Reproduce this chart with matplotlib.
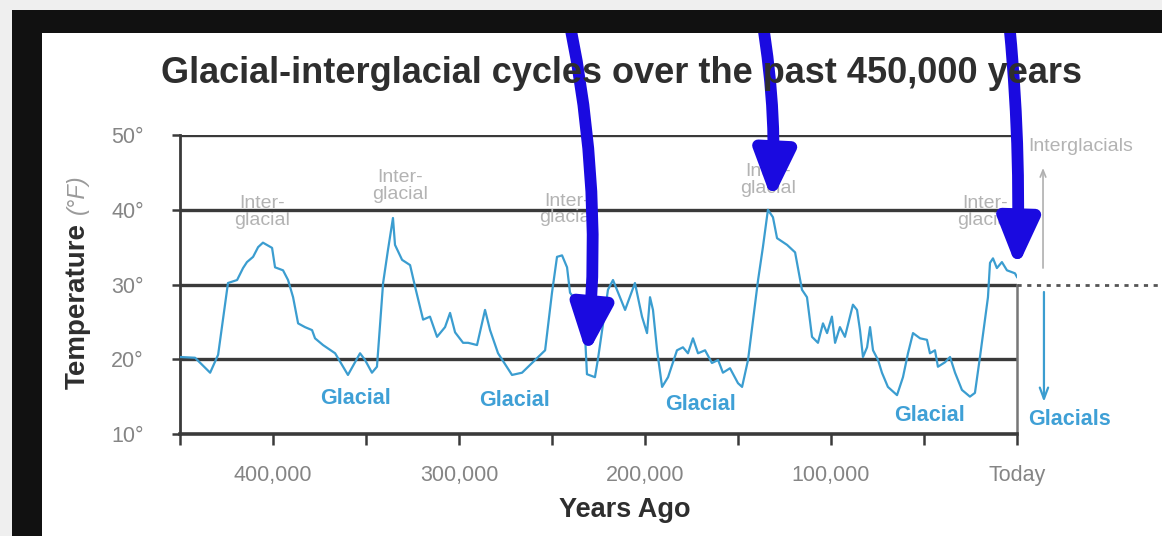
import matplotlib.pyplot as plt
from matplotlib.patches import Rectangle

plt.rcParams['font.family'] = ['Liberation Sans', 'DejaVu Sans']

# temperature record (thousands of years ago, deg F)
years_ago_kyr = [450.0, 441.9, 433.8, 429.5, 424.2, 419.3, 416.1, 414.0, 410.7, 408.0,
                 405.4, 400.5, 398.9, 394.6, 391.9, 389.2, 386.5, 382.8, 379.0, 377.4,
                 373.1, 366.6, 359.7, 353.2, 350.5, 346.8, 344.1, 340.8, 338.2, 335.5,
                 334.4, 330.6, 326.3, 323.6, 319.3, 315.6, 311.8, 307.5, 304.8, 302.1,
                 297.8, 295.1, 290.3, 286.0, 283.3, 279.0, 271.5, 266.1, 259.1, 253.7,
                 250.0, 247.3, 244.6, 241.9, 240.3, 236.0, 232.7, 231.2, 226.9, 225.3,
                 219.9, 217.2, 210.7, 205.4, 201.6, 198.9, 197.3, 195.7, 193.5, 190.8,
                 187.6, 182.8, 179.6, 176.9, 174.2, 171.5, 167.7, 164.0, 160.7, 158.1,
                 154.3, 150.0, 147.8, 144.6, 139.2, 136.6, 133.9, 131.2, 129.0, 123.6,
                 119.3, 115.6, 112.9, 110.2, 107.0, 104.3, 102.1, 99.5, 97.8, 95.2,
                 92.5, 88.2, 86.0, 84.4, 82.8, 80.6, 79.0, 77.4, 74.7, 72.6,
                 69.4, 64.5, 61.3, 58.6, 55.9, 52.1, 48.4, 46.8, 44.1, 42.5,
                 38.7, 36.0, 33.3, 29.6, 25.3, 22.6, 19.9, 17.2, 15.6, 14.5,
                 12.9, 10.8, 8.1, 5.4, 1.1, 0.0]
temp_f = [20.3, 20.2, 18.2, 20.6, 30.2, 30.6, 32.2, 33.0, 33.7, 35.0,
          35.6, 34.9, 32.3, 31.9, 30.6, 28.3, 24.8, 24.3, 23.9, 22.8,
          21.9, 20.8, 17.9, 20.8, 19.9, 18.2, 19.0, 30.2, 34.6, 38.9,
          35.3, 33.3, 32.6, 29.7, 25.3, 25.7, 23.0, 24.3, 26.2, 23.6,
          22.2, 22.2, 21.9, 26.6, 23.9, 20.8, 17.9, 18.2, 19.9, 21.2,
          28.9, 33.7, 33.9, 32.3, 28.9, 27.5, 25.5, 18.0, 17.6, 20.0,
          29.3, 30.6, 26.6, 30.2, 25.7, 23.5, 28.3, 26.6, 21.2, 16.3,
          17.6, 21.2, 21.6, 20.8, 22.8, 20.8, 21.2, 19.5, 19.9, 18.2,
          18.8, 16.8, 16.3, 19.9, 30.6, 35.0, 40.0, 39.0, 36.2, 35.3,
          34.3, 29.3, 28.3, 23.0, 22.2, 24.8, 23.5, 25.7, 22.2, 24.3,
          23.0, 27.3, 26.6, 23.9, 20.3, 21.6, 24.3, 21.2, 19.9, 18.2,
          16.3, 15.2, 17.6, 20.8, 23.5, 22.8, 22.6, 20.8, 21.2, 19.0,
          19.6, 20.3, 18.2, 15.9, 15.0, 15.5, 20.3, 25.3, 28.3, 32.9,
          33.5, 32.2, 33.0, 31.9, 31.5, 31.0]

x_ticks_major = [400, 300, 200, 100, 0]
x_tick_labels = ['400,000', '300,000', '200,000', '100,000', 'Today']
x_ticks_minor = [450, 350, 250, 150, 50]
y_ticks = [10, 20, 30, 40, 50]
y_tick_labels = ['10°', '20°', '30°', '40°', '50°']

interglacial_pos = [(405.9, 39.7), (331.7, 43.2), (241.9, 40.0), (133.9, 44.0), (17.2, 39.7)]
glacial_pos = [(355.9, 14.8), (269.9, 14.5), (170.4, 13.9), (47.3, 12.5)]
# hand-drawn arrow tips (kyr, F) and their start x on the top edge (figure fraction)
pointer_tips = [(231.2, 20.6), (131.7, 41.3), (0.0, 32.2)]
pointer_starts = [0.485, 0.652, 0.866]
pointer_rads = [-0.08, -0.06, -0.035]

curve_blue = '#3b9dd0'
grid_dark = '#3a3a3a'
tick_gray = '#858585'
note_gray = '#b3b3b3'
pen_blue = '#1a0ae0'

fig = plt.figure(figsize=(11.62, 5.36), dpi=100)
fig.patch.set_facecolor('white')

# photo frame: light margin + black bands
fig.patches.append(Rectangle((0, 0.9813), 1, 0.0187, transform=fig.transFigure,
                             facecolor='#efefef', edgecolor='none', zorder=0))
fig.patches.append(Rectangle((0, 0), 0.0103, 1, transform=fig.transFigure,
                             facecolor='#efefef', edgecolor='none', zorder=0))
fig.patches.append(Rectangle((0.0103, 0.9384), 0.9897, 0.0429, transform=fig.transFigure,
                             facecolor='#111111', edgecolor='none', zorder=0))
fig.patches.append(Rectangle((0.0103, 0), 0.0258, 0.9813, transform=fig.transFigure,
                             facecolor='#111111', edgecolor='none', zorder=0))

ax = fig.add_axes([0.1549, 0.1903, 0.7203, 0.5578])
ax.set_facecolor('white')
ax.plot(years_ago_kyr, temp_f, color=curve_blue, lw=1.6, zorder=3)
ax.set_xlim(450, 0)
ax.set_ylim(10, 50)

for yv in [20, 30, 40, 50]:
    ax.axhline(yv, color=grid_dark, lw=2.4, zorder=2)

for side in ['top', 'right']:
    ax.spines[side].set_visible(False)
ax.spines['left'].set_color(grid_dark)
ax.spines['left'].set_linewidth(2.0)
ax.spines['bottom'].set_color(grid_dark)
ax.spines['bottom'].set_linewidth(2.6)
ax.plot([0, 0], [10, 30], color='#777777', lw=1.8, zorder=2, clip_on=False)

ax.set_xticks(x_ticks_major)
ax.set_xticklabels(x_tick_labels)
ax.set_xticks(x_ticks_minor, minor=True)
ax.tick_params(axis='x', which='both', direction='out', length=8, width=1.8,
               color=grid_dark, labelsize=15.5, labelcolor=tick_gray, pad=14)
ax.set_yticks(y_ticks)
ax.set_yticklabels(y_tick_labels)
ax.tick_params(axis='y', direction='out', length=6, width=1.8, color=grid_dark,
               labelsize=15.5, labelcolor=tick_gray, pad=20)

# dotted "today" level
ax.plot([0, -80], [30, 30], color='#555555', lw=2, ls=(0, (1.5, 2)), clip_on=False, zorder=2)

for (xv, yv) in interglacial_pos:
    ax.text(xv, yv, 'Inter-\nglacial', ha='center', va='center', fontsize=14,
            color=note_gray, linespacing=0.95, zorder=4)
for (xv, yv) in glacial_pos:
    ax.text(xv, yv, 'Glacial', ha='center', va='center', fontsize=15.5,
            color='#3fa0d6', fontweight='bold', zorder=4)

ax.text(-5.9, 48.4, 'Interglacials', ha='left', va='center', fontsize=14,
        color=note_gray, clip_on=False)
ax.text(-5.9, 11.9, 'Glacials', ha='left', va='center', fontsize=15.5,
        color='#3fa0d6', fontweight='bold', clip_on=False)
ax.annotate('', xy=(-14.0, 45.6), xytext=(-14.0, 32.2),
            arrowprops=dict(arrowstyle='->,head_length=0.5,head_width=0.2',
                            color='#b0b0b0', lw=1.2, shrinkA=0, shrinkB=0),
            annotation_clip=False)
ax.annotate('', xy=(-14.5, 14.3), xytext=(-14.5, 29.0),
            arrowprops=dict(arrowstyle='->,head_length=0.8,head_width=0.3',
                            color=curve_blue, lw=1.6, shrinkA=0, shrinkB=0),
            annotation_clip=False)

fig.text(0.535, 0.845, 'Glacial-interglacial cycles over the past 450,000 years',
         ha='center', va='baseline', fontsize=26, fontweight='bold', color='#2e2e2e')
fig.text(0.538, 0.0485, 'Years Ago', ha='center', va='center', fontsize=19.5,
         fontweight='bold', color='#2e2e2e')
fig.text(0.067, 0.429, 'Temperature', ha='center', va='center', rotation=90,
         fontsize=20, fontweight='bold', color='#2e2e2e')
fig.text(0.067, 0.637, '(°F)', ha='center', va='center', rotation=90,
         fontsize=17, fontstyle='italic', color='#9a9a9a')

# blue pen arrows drawn over the slide
for tip, x0, rad in zip(pointer_tips, pointer_starts, pointer_rads):
    ax.annotate('', xy=tip, xycoords='data', xytext=(x0, 1.01), textcoords='figure fraction',
                arrowprops=dict(arrowstyle='-|>,head_length=2.8,head_width=1.2',
                                color=pen_blue, lw=8.5, shrinkA=0, shrinkB=0,
                                connectionstyle='arc3,rad=%s' % rad, mutation_scale=10),
                annotation_clip=False, zorder=10)

fig.savefig('out.png', dpi=100)
